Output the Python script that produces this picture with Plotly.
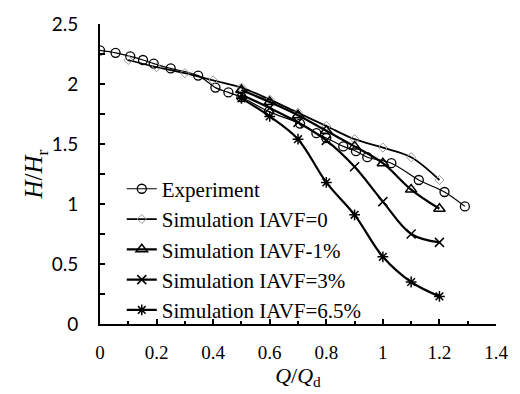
import plotly.graph_objects as go

# Experiment
exp_q = [0, 0.055, 0.107, 0.152, 0.19, 0.25, 0.347, 0.408, 0.454, 0.5, 0.597, 0.707,
         0.765, 0.80, 0.86, 0.905, 0.945, 1.03, 1.127, 1.218, 1.29]
exp_h = [2.28, 2.26, 2.23, 2.20, 2.17, 2.13, 2.07, 1.97, 1.93, 1.89, 1.77, 1.67,
         1.59, 1.55, 1.48, 1.44, 1.39, 1.34, 1.20, 1.10, 0.98]

# Simulation IAVF=0
s0_q = [0.1, 0.2, 0.3, 0.4, 0.5, 0.6, 0.7, 0.8, 0.9, 1.0, 1.1, 1.2]
s0_h = [2.20, 2.14, 2.09, 2.03, 1.97, 1.87, 1.76, 1.65, 1.54, 1.47, 1.39, 1.20]

# Simulation IAVF-1%
s1_q = [0.5, 0.6, 0.7, 0.8, 0.9, 1.0, 1.1, 1.2]
s1_h = [1.95, 1.85, 1.74, 1.61, 1.48, 1.34, 1.12, 0.96]

# Simulation IAVF=3%
s3_q = [0.5, 0.6, 0.7, 0.8, 0.9, 1.0, 1.1, 1.2]
s3_h = [1.91, 1.80, 1.68, 1.53, 1.31, 1.02, 0.75, 0.68]

# Simulation IAVF=6.5%
s6_q = [0.5, 0.6, 0.7, 0.8, 0.9, 1.0, 1.1, 1.2]
s6_h = [1.88, 1.73, 1.54, 1.18, 0.91, 0.56, 0.35, 0.23]

names = ["Experiment", "Simulation IAVF=0", "Simulation IAVF-1%",
         "Simulation IAVF=3%", "Simulation IAVF=6.5%"]

fig = go.Figure()
fig.add_trace(go.Scatter(x=exp_q, y=exp_h, name=names[0], mode="lines+markers",
                         line=dict(color="black", width=1.2, shape="spline"),
                         marker=dict(symbol="circle-open", size=9, color="black",
                                     line=dict(width=1.3))))
fig.add_trace(go.Scatter(x=s0_q, y=s0_h, name=names[1], mode="lines+markers",
                         line=dict(color="black", width=1.8, shape="spline"),
                         marker=dict(symbol="diamond-open", size=7, color="#999999",
                                     line=dict(width=1))))
fig.add_trace(go.Scatter(x=s1_q, y=s1_h, name=names[2], mode="lines+markers",
                         line=dict(color="black", width=2.2, shape="spline"),
                         marker=dict(symbol="triangle-up-open", size=10, color="black",
                                     line=dict(width=1.5))))
fig.add_trace(go.Scatter(x=s3_q, y=s3_h, name=names[3], mode="lines+markers",
                         line=dict(color="black", width=2.2, shape="spline"),
                         marker=dict(symbol="x-thin-open", size=9, color="black",
                                     line=dict(width=1.5))))
fig.add_trace(go.Scatter(x=s6_q, y=s6_h, name=names[4], mode="lines+markers",
                         line=dict(color="black", width=2.2, shape="spline"),
                         marker=dict(symbol="asterisk-open", size=9, color="black",
                                     line=dict(width=1.5))))

fig.update_layout(
    width=520, height=394,
    margin=dict(l=100, r=14, t=21, b=68),
    paper_bgcolor="white", plot_bgcolor="white",
    showlegend=True,
    legend=dict(x=0.055, y=0.518, xanchor="left", yanchor="top",
                font=dict(family="Liberation Serif", size=21, color="black"),
                bgcolor="rgba(0,0,0,0)", tracegroupgap=0, itemwidth=30),
    xaxis=dict(range=[0, 1.4], tickvals=[0, 0.2, 0.4, 0.6, 0.8, 1, 1.2, 1.4],
               ticktext=["0", "0.2", "0.4", "0.6", "0.8", "1", "1.2", "1.4"],
               ticks="inside", ticklen=5, tickwidth=1.5, tickcolor="black",
               minor=dict(dtick=0.1, ticks="inside", ticklen=3, tickwidth=1.5, tickcolor="black"),
               showline=True, linecolor="black", linewidth=2, showgrid=False, zeroline=False,
               ticklabelstandoff=10,
               tickfont=dict(family="Liberation Serif", size=19, color="black"),
               title=dict(text="<i>Q</i>/<i>Q</i><sub>d</sub>", standoff=4,
                          font=dict(family="Liberation Serif", size=22, color="black"))),
    yaxis=dict(range=[0, 2.5], tickvals=[0, 0.5, 1, 1.5, 2, 2.5],
               ticktext=["0", "0.5", "1", "1.5", "2", "2.5"],
               ticks="inside", ticklen=5, tickwidth=1.5, tickcolor="black",
               minor=dict(dtick=0.25, ticks="inside", ticklen=5, tickwidth=1.5, tickcolor="black"),
               showline=True, linecolor="black", linewidth=2, showgrid=False, zeroline=False,
               ticklabelstandoff=16,
               tickfont=dict(family="Lato", size=19, color="black"),
               title=dict(text="<i>H</i>/<i>H</i><sub>r</sub>", standoff=0,
                          font=dict(family="Liberation Serif", size=25, color="black"))),
)

fig.write_html("out.html")
